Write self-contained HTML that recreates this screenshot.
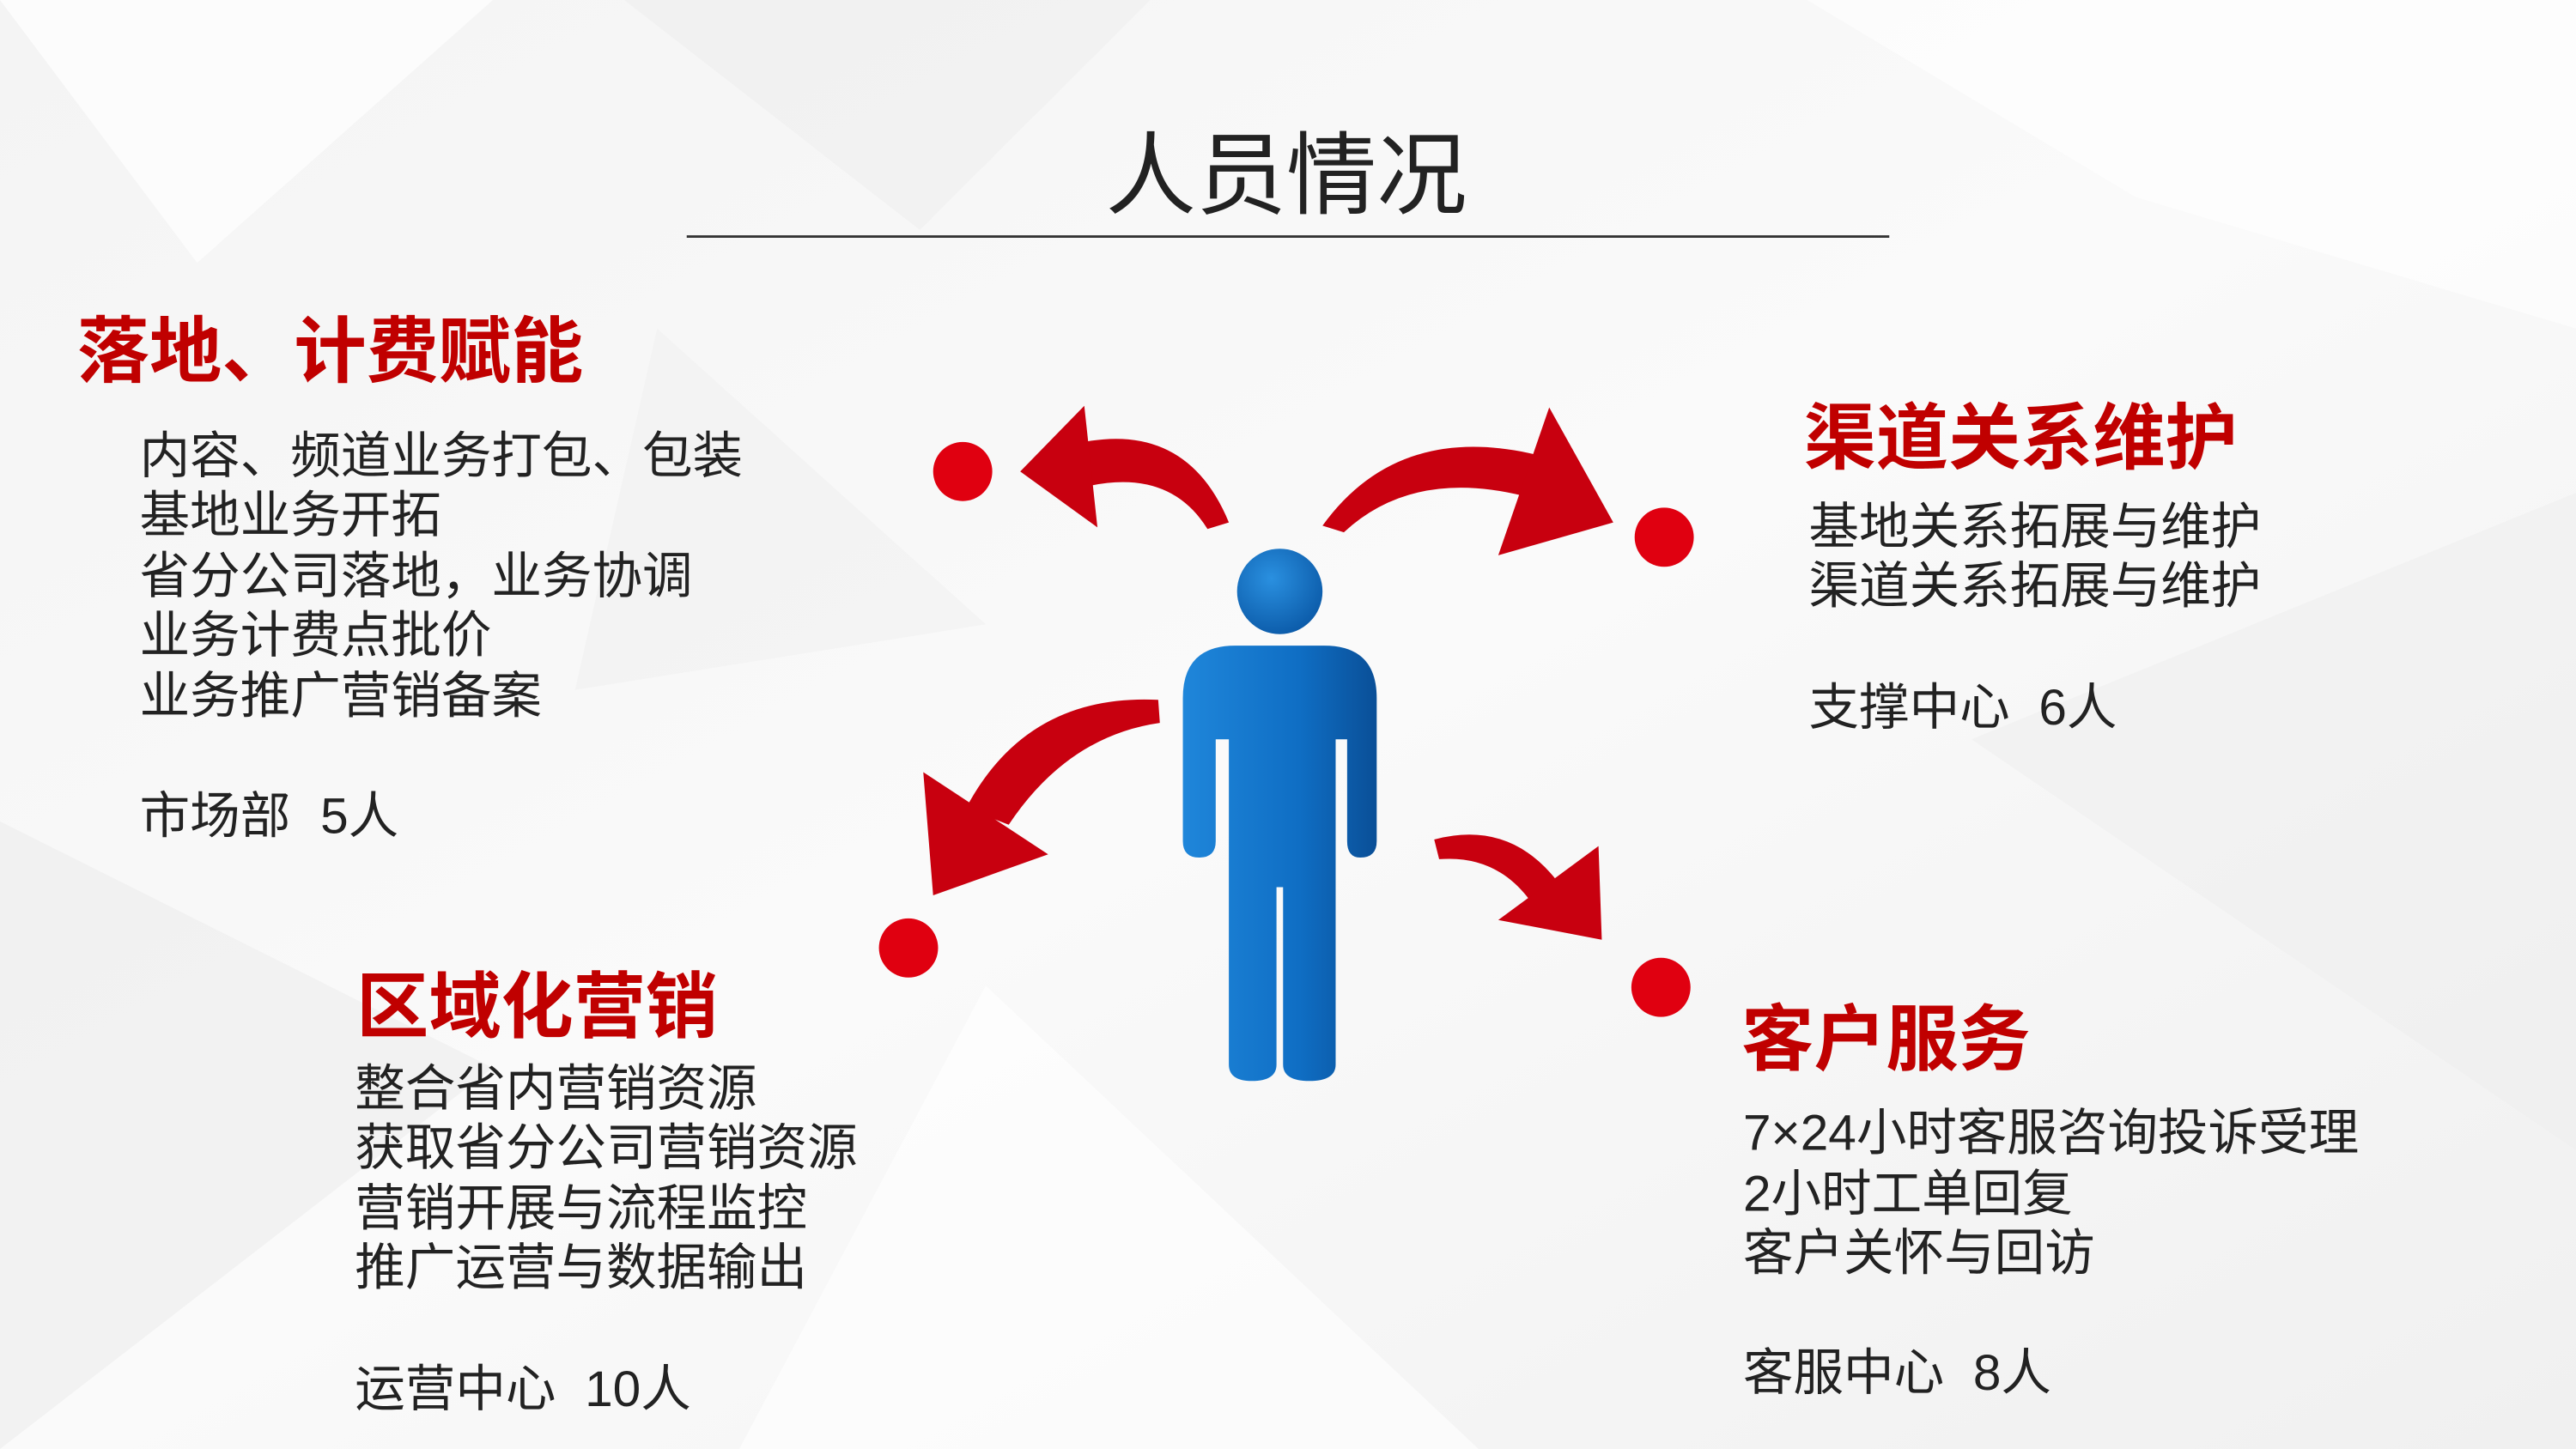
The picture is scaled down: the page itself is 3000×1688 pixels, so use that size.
<!DOCTYPE html>
<html><head><meta charset="utf-8"><style>
html,body{margin:0;padding:0;width:3000px;height:1688px;overflow:hidden;background:#fff}
svg{display:block}
text{font-family:"Liberation Sans","Noto Sans CJK SC",sans-serif}
.h{fill:#c00000;font-weight:bold;font-size:44px}
.t{fill:#222;font-size:30.6px}
</style></head><body>
<svg width="3000" height="1688" viewBox="0 0 1568 882" preserveAspectRatio="none" xmlns="http://www.w3.org/2000/svg">
<defs>
<linearGradient id="bg" x1="0" y1="0" x2="1" y2="1"><stop offset="0" stop-color="#f4f4f4"/><stop offset="0.5" stop-color="#fafafa"/><stop offset="1" stop-color="#f0f0f0"/></linearGradient>
<linearGradient id="bl" x1="0" y1="0" x2="1" y2="0"><stop offset="0" stop-color="#1f86da"/><stop offset="0.6" stop-color="#0f6ec4"/><stop offset="1" stop-color="#0a4f97"/></linearGradient>
<radialGradient id="hd" cx="0.4" cy="0.35" r="0.7"><stop offset="0" stop-color="#2a90e0"/><stop offset="1" stop-color="#0b5aa8"/></radialGradient>
</defs>
<rect width="1568" height="882" fill="url(#bg)"/>
<polygon points="0,0 300,0 120,160" fill="#ffffff" opacity="0.7"/>
<polygon points="380,0 700,0 560,140" fill="#eeeeee" opacity="0.6"/>
<polygon points="1100,0 1568,0 1568,200 1300,120" fill="#ffffff" opacity="0.6"/>
<polygon points="0,500 300,650 0,882" fill="#ececec" opacity="0.6"/>
<polygon points="1200,450 1568,300 1568,700" fill="#eeeeee" opacity="0.5"/>
<polygon points="600,600 900,882 450,882" fill="#ffffff" opacity="0.6"/>
<polygon points="400,200 600,380 350,420" fill="#f0f0f0" opacity="0.6"/>
<text x="783" y="126" text-anchor="middle" font-size="55" fill="#222">人员情况</text>
<line x1="418" y1="144" x2="1150" y2="144" stroke="#333" stroke-width="1.5"/>

<text class="h" x="47" y="229">落地、计费赋能</text>
<g class="t"><text x="85" y="288">内容、频道业务打包、包装</text><text x="85" y="324">基地业务开拓</text><text x="85" y="361">省分公司落地，业务协调</text><text x="85" y="397">业务计费点批价</text><text x="85" y="434">业务推广营销备案</text><text x="85" y="507">市场部</text><text x="195" y="507">5人</text></g>

<text class="h" x="1098" y="282">渠道关系维护</text>
<g class="t"><text x="1101" y="331">基地关系拓展与维护</text><text x="1101" y="367">渠道关系拓展与维护</text><text x="1101" y="441">支撑中心</text><text x="1241" y="441">6人</text></g>

<text class="h" x="217" y="628">区域化营销</text>
<g class="t"><text x="216" y="673">整合省内营销资源</text><text x="216" y="709">获取省分公司营销资源</text><text x="216" y="746">营销开展与流程监控</text><text x="216" y="782">推广运营与数据输出</text><text x="216" y="856">运营中心</text><text x="356" y="856">10人</text></g>

<text class="h" x="1060" y="648">客户服务</text>
<g class="t"><text x="1061" y="700">7×24小时客服咨询投诉受理</text><text x="1061" y="737">2小时工单回复</text><text x="1061" y="773">客户关怀与回访</text><text x="1061" y="846">客服中心</text><text x="1201" y="846">8人</text></g>

<g fill="#e00010">
<circle cx="586" cy="287" r="18"/><circle cx="1013" cy="327" r="18"/><circle cx="553" cy="577" r="18"/><circle cx="1011" cy="601" r="18"/>
</g>
<g fill="#c8000f">
<path d="M748,318 Q722,255 655,270 L662,296 Q712,285 735,322 Z"/>
<polygon points="660,247 621,287 668,321"/>
<path d="M805,320 Q852,255 940,278 L928,302 Q860,285 818,324 Z"/>
<polygon points="943,248 982,318 912,338"/>
<path d="M705,426 Q625,422 588,492 L614,502 Q650,448 706,440 Z"/>
<polygon points="562,470 638,520 568,545"/>
<path d="M873,511 Q922,498 952,542 L934,552 Q913,520 876,523 Z"/>
<polygon points="973,515 975,572 912,560"/>
</g>

<circle cx="779" cy="360" r="26" fill="url(#hd)"/>
<path fill="url(#bl)" d="M752,393 L806,393 Q838,393 838,425 L838,512 Q838,522 828,522 Q820,522 820,512 L820,450 L813,450 L813,648 Q813,658 797,658 Q781,658 781,648 L781,540 L777,540 L777,648 Q777,658 762,658 Q748,658 748,648 L748,450 L740,450 L740,512 Q740,522 730,522 Q720,522 720,512 L720,425 Q720,393 752,393 Z"/>
</svg>
</body></html>
